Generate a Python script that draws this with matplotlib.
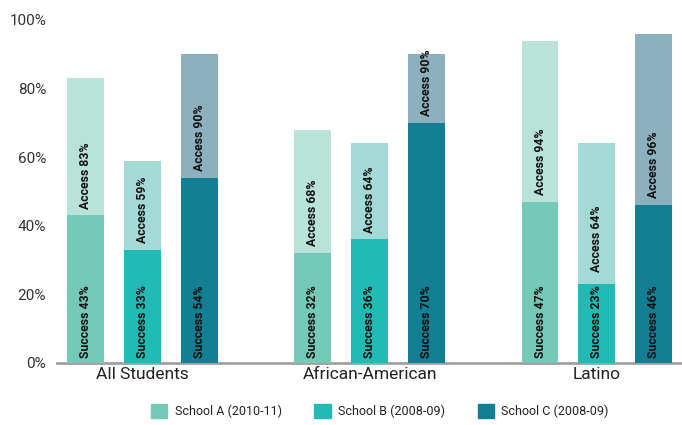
import matplotlib
matplotlib.use("Agg")
import matplotlib.pyplot as plt
from matplotlib.patches import Patch

plt.rcParams['font.family'] = ['Roboto', 'DejaVu Sans']

groups = ["All Students", "African-American", "Latino"]
schools = ["School A", "School B", "School C"]
years = ["(2010-11)", "(2008-09)", "(2008-09)"]
success = [[43, 33, 54], [32, 36, 70], [47, 23, 46]]
access = [[83, 59, 90], [68, 64, 90], [94, 64, 96]]

success_colors = ["#74c9b7", "#22bab4", "#127f95"]
access_colors = ["#b9e2d9", "#a4dad6", "#8db0bf"]


def main():
    fig = plt.figure(figsize=(6.82, 4.25), dpi=100)
    ax = fig.add_axes([0.084, 0.146, 0.916, 0.807])

    for g in range(len(groups)):
        for j in range(len(schools)):
            x = 4 * g + j
            s = success[g][j]
            a = access[g][j]
            ax.bar(x, s, width=0.65, color=success_colors[j], zorder=2)
            ax.bar(x, a - s, bottom=s, width=0.65, color=access_colors[j], zorder=2)
            ax.text(x, 1.5, "Success %d%%" % s, rotation=90, ha="center", va="bottom",
                    fontsize=8.8, fontweight="bold", color="#111111", zorder=3)
            # access label starts just above the success part (or above its label)
            ax.text(x, max(s + 2, 26.5), "Access %d%%" % a, rotation=90, ha="center", va="bottom",
                    fontsize=8.8, fontweight="bold", color="#111111", zorder=3)

    ax.set_xlim(-0.5, 10.5)
    ax.set_ylim(0, 100)
    ax.set_yticks(range(0, 101, 20))
    ax.set_yticklabels(["%d%%" % v for v in range(0, 101, 20)], fontsize=11, color="#333333")
    ax.set_xticks([4 * g + 1 for g in range(len(groups))])
    ax.set_xticklabels(groups, fontsize=12.5, color="#222222")
    ax.tick_params(axis="both", length=0)
    ax.tick_params(axis="x", pad=3)
    ax.tick_params(axis="y", pad=8)
    for side in ["top", "right", "left"]:
        ax.spines[side].set_visible(False)
    ax.spines["bottom"].set_color("#a0a0a0")
    ax.spines["bottom"].set_linewidth(2)
    ax.spines["bottom"].set_zorder(1)

    handles = [Patch(color=c) for c in success_colors]
    labels = ["%s %s" % (s, y) for s, y in zip(schools, years)]
    fig.legend(handles, labels, loc="lower center", bbox_to_anchor=(0.557, -0.01), ncol=3,
               frameon=False, fontsize=9, handlelength=1.3, handleheight=1.3,
               columnspacing=2.6, handletextpad=0.6, labelcolor="#222222")

    fig.savefig("out.png", dpi=100)


if __name__ == "__main__":
    main()
